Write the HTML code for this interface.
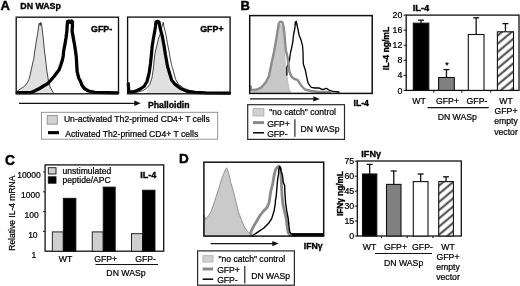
<!DOCTYPE html>
<html><head><meta charset="utf-8"><style>
html,body{margin:0;padding:0;background:#fff;}
body{width:520px;height:286px;overflow:hidden;}
svg{display:block;font-family:"Liberation Sans", sans-serif;-webkit-font-smoothing:antialiased;will-change:transform;}
</style></head><body>
<svg width="520" height="286" viewBox="0 0 520 286">
<rect width="520" height="286" fill="#fff"/>
<defs><pattern id="hatch" patternUnits="userSpaceOnUse" width="6.28" height="6.28" patternTransform="rotate(50)"><rect width="6.28" height="6.28" fill="#fff"/><line x1="1.72" y1="-1" x2="1.72" y2="7.28" stroke="#555" stroke-width="2.2"/></pattern><pattern id="hatch2" patternUnits="userSpaceOnUse" width="6.28" height="6.28" patternTransform="rotate(50)"><rect width="6.28" height="6.28" fill="#fff"/><line x1="3.6" y1="-1" x2="3.6" y2="7.28" stroke="#555" stroke-width="2.2"/></pattern></defs>
<text x="0.6" y="9.6" font-size="13" font-weight="bold" text-anchor="start" fill="#000" stroke="#000" stroke-width="0.45" >A</text>
<text x="20.3" y="8.9" font-size="8.8" font-weight="bold" text-anchor="start" fill="#000" stroke="#000" stroke-width="0.35" >DN WASp</text>
<polygon points="16.5,93.2 18.3,90.1 21.5,88.3 24.8,86 27,83 28.9,79.5 30.2,74.5 31.3,69.7 32.5,64 33.8,58.3 34.6,52 35.8,45 36.8,38 37.6,33.5 38.3,29 39,24 39.6,23 40.2,25.5 40.7,22.4 41.3,23 41.9,27 43,36 43.9,45 44.6,52 45.2,56 46.9,71.3 48.5,81.1 50.1,86.9 51.8,90.1 53.4,92.9" fill="#e0e0e0" stroke="none" stroke-width="0"/>
<polyline points="16.5,93.2 18.3,90.1 21.5,88.3 24.8,86 27,83 28.9,79.5 30.2,74.5 31.3,69.7 32.5,64 33.8,58.3 34.6,52 35.8,45 36.8,38 37.6,33.5 38.3,29 39,24 39.6,23 40.2,25.5 40.7,22.4 41.3,23 41.9,27 43,36 43.9,45 44.6,52 45.2,56 46.9,71.3 48.5,81.1 50.1,86.9 51.8,90.1 53.4,92.9" fill="none" stroke="#1a1a1a" stroke-width="0.8" stroke-linejoin="round" stroke-linecap="round" />
<polyline points="17.2,92.6 31.3,92.6 35,90.8 39.5,88.5 43.5,86 47.7,83.6 51,80 54.2,76.2 57,72.5 59.1,69.7 60.8,65 62.4,59.9 63.2,56 63.7,50.7 64.8,45 66,38 66.9,31 67.2,25 67.6,21.6 69,21 70.3,22.3 71.5,21 72.5,22 72.4,27 72.1,31 73.3,38 74.6,45 75.5,51 76.3,57 76.7,64 77.1,71.3 78.7,77.9 80.4,81.1 82,85.2 84.4,88.5 88.5,91 95,92.3 117.6,92.8" fill="none" stroke="#000" stroke-width="3.3" stroke-linejoin="round" stroke-linecap="round" />
<rect x="16.2" y="17.2" width="102.3" height="76.6" fill="none" stroke="#111" stroke-width="1.35" />
<text x="91" y="31.7" font-size="8.9" font-weight="bold" text-anchor="start" fill="#000" stroke="#000" stroke-width="0.35" >GFP-</text>
<polygon points="146.5,93.2 148,87.5 149.8,84.4 151.9,78.1 153.3,69 154.7,55 156.2,48 157.3,44 158.3,39 161,33.5 162.3,36.2 164.1,46 165.5,55 167.5,66.2 169.6,73.2 171.7,80.2 175.2,84.4 180.8,88.6 182,90 183,93.2" fill="#e0e0e0" stroke="none" stroke-width="0"/>
<polyline points="135,92.8 142.8,90.7 146.3,88.6 149.8,84.4 151.9,78.1 153.3,69 154.7,55 156.2,48 157.3,44 158.3,39 160.4,33.4 162.1,26.4 163.2,22.2 163.9,26.4 166.0,34.8 167.4,43.2 168.8,50.3 170.0,57 171.5,64.8 173.6,71.8 175.7,79.5 178.5,84.4 183.4,87.9 190,90.7 200,92.5 210,93" fill="none" stroke="#1a1a1a" stroke-width="0.8" stroke-linejoin="round" stroke-linecap="round" />
<polyline points="128.3,83.5 128.8,91.9 133,91.9 137,90.4 140.7,88.7 144.2,86.2 147,81.5 149.1,73.2 150.5,63.4 151.3,56 152.2,46 153.5,38 154.6,32 155.5,26.4 156,22 157.6,21.3 159,22 160.2,28.5 162.3,36.2 164.1,46 165.5,55 167.5,66.2 169.6,73.2 171.7,80.2 175.2,84.4 180.8,88.6 186.2,91.1 195,92.3 205.8,92.9 229.5,93.1" fill="none" stroke="#000" stroke-width="3.2" stroke-linejoin="round" stroke-linecap="round" />
<rect x="127.6" y="17.1" width="102.5" height="76.69999999999999" fill="none" stroke="#111" stroke-width="1.35" />
<text x="200.2" y="32.2" font-size="8.9" font-weight="bold" text-anchor="start" fill="#000" stroke="#000" stroke-width="0.35" >GFP+</text>
<line x1="19" y1="103.3" x2="135.3" y2="103.3" stroke="#111" stroke-width="1.2"/>
<polygon points="140.8,103.3 134.3,100.6 134.3,106.0" fill="#111" stroke="none" stroke-width="0"/>
<text x="148" y="108.3" font-size="8.7" font-weight="bold" text-anchor="start" fill="#000" stroke="#000" stroke-width="0.35" >Phalloidin</text>
<rect x="41.5" y="112.3" width="176.2" height="26.89999999999999" fill="#fff" stroke="#8a8a8a" stroke-width="0.9" />
<rect x="47.2" y="115.5" width="10.1" height="8.7" fill="#d2d2d2" stroke="#999" stroke-width="1" />
<text x="63.9" y="122.4" font-size="8.6" text-anchor="start" fill="#000" stroke="#000" stroke-width="0.22" >Un-activated Th2-primed CD4+ T cells</text>
<rect x="48" y="131.1" width="11" height="3.1" fill="#000" stroke="none" stroke-width="0" />
<text x="65.2" y="136.8" font-size="8.6" text-anchor="start" fill="#000" stroke="#000" stroke-width="0.22" >Activated Th2-primed CD4+ T cells</text>
<text x="240.5" y="9.5" font-size="13" font-weight="bold" text-anchor="start" fill="#000" stroke="#000" stroke-width="0.45" >B</text>
<polygon points="252,92.2 257,89.8 261.5,87.6 266,82.3 269,76.3 270.5,68.8 272,61.3 274,52.3 275.3,45 276.7,36.6 278.1,28.2 279.5,24 281,24.5 282,27 282.8,32.2 283.7,45 284.5,52 285.5,67 287,74.5 287.8,82 289.3,89.5 290.8,92.2" fill="#c8c8c8" stroke="#b5b5b5" stroke-width="0.7"/>
<polyline points="286.8,75 286.8,67.5 288,64.5 289.5,60 290.6,52 291.4,49 292.8,42 293.5,35 294.9,28 295.3,22 295.8,24 296.3,21.5 296.8,24 297.7,28 299.1,35 301.2,40.6 302.6,46.2 303,52 303.3,64 305.3,70 306.8,77.6 308.3,83.6 311.3,87.3 315,88 318.8,87.8 322.6,89.6 326.3,88.4 329.3,90.3 333,91.4 339,92" fill="none" stroke="#000" stroke-width="1.3" stroke-linejoin="round" stroke-linecap="round" />
<polyline points="250.6,86.5 251.2,90.3 257,89.5 261.5,87.3 266,82 269,76 270.5,68.5 272,61 274,52 275.3,44.8 276.7,36.4 278.1,28 278.7,24 279.6,22.2 281,21.7 282.4,22.3 283.3,25.5 284.4,33.6 285.1,42 285.8,50.4 287.3,56 288.5,64 289.3,71.5 291.5,76.8 294.5,79 297.5,79.8 299.8,83.5 302,86.5 305,89.5 311,91 318,91.8 330,92.3" fill="none" stroke="#8c8c8c" stroke-width="2.4" stroke-linejoin="round" stroke-linecap="round" />
<rect x="249.7" y="15.6" width="122.5" height="77.80000000000001" fill="none" stroke="#111" stroke-width="1.5" />
<line x1="250" y1="98.9" x2="314.3" y2="98.9" stroke="#111" stroke-width="1.2"/>
<polygon points="319.8,98.9 313.3,96.2 313.3,101.60000000000001" fill="#111" stroke="none" stroke-width="0"/>
<text x="353.5" y="105.9" font-size="8.7" font-weight="bold" text-anchor="start" fill="#000" stroke="#000" stroke-width="0.35" >IL-4</text>
<rect x="247.7" y="104.7" width="96.80000000000001" height="34.7" fill="#fff" stroke="#2a2a2a" stroke-width="1.2" />
<rect x="253" y="108.6" width="10.9" height="7.4" fill="#d0d0d0" stroke="#aaa" stroke-width="0.8" />
<text x="269.2" y="115.1" font-size="8.6" text-anchor="start" fill="#000" stroke="#000" stroke-width="0.22" >"no catch" control</text>
<line x1="253" y1="122.6" x2="264" y2="122.6" stroke="#8a8a8a" stroke-width="3"/>
<text x="267.2" y="126.8" font-size="8.6" text-anchor="start" fill="#000" stroke="#000" stroke-width="0.22" >GFP+</text>
<line x1="253" y1="132.8" x2="264" y2="132.8" stroke="#000" stroke-width="1.5"/>
<text x="267.2" y="137.1" font-size="8.6" text-anchor="start" fill="#000" stroke="#000" stroke-width="0.22" >GFP-</text>
<line x1="294.9" y1="119.2" x2="294.9" y2="136.7" stroke="#111" stroke-width="1.1"/>
<text x="300.6" y="131.8" font-size="8.6" text-anchor="start" fill="#000" stroke="#000" stroke-width="0.22" >DN WASp</text>
<text x="412.7" y="10.8" font-size="9.3" font-weight="bold" text-anchor="start" fill="#000" stroke="#000" stroke-width="0.35" >IL-4</text>
<rect x="406.2" y="15.1" width="112.80000000000001" height="75.30000000000001" fill="none" stroke="#111" stroke-width="1.3" />
<line x1="403.59999999999997" y1="90.4" x2="406.2" y2="90.4" stroke="#111" stroke-width="1"/>
<text x="402.4" y="93.5" font-size="8.8" text-anchor="end" fill="#000" stroke="#000" stroke-width="0.22" >0</text>
<line x1="403.59999999999997" y1="75.34" x2="406.2" y2="75.34" stroke="#111" stroke-width="1"/>
<text x="402.4" y="78.44" font-size="8.8" text-anchor="end" fill="#000" stroke="#000" stroke-width="0.22" >4</text>
<line x1="403.59999999999997" y1="60.28" x2="406.2" y2="60.28" stroke="#111" stroke-width="1"/>
<text x="402.4" y="63.38" font-size="8.8" text-anchor="end" fill="#000" stroke="#000" stroke-width="0.22" >8</text>
<line x1="403.59999999999997" y1="45.220000000000006" x2="406.2" y2="45.220000000000006" stroke="#111" stroke-width="1"/>
<text x="402.4" y="48.32000000000001" font-size="8.8" text-anchor="end" fill="#000" stroke="#000" stroke-width="0.22" >12</text>
<line x1="403.59999999999997" y1="30.160000000000004" x2="406.2" y2="30.160000000000004" stroke="#111" stroke-width="1"/>
<text x="402.4" y="33.260000000000005" font-size="8.8" text-anchor="end" fill="#000" stroke="#000" stroke-width="0.22" >16</text>
<line x1="403.59999999999997" y1="15.100000000000009" x2="406.2" y2="15.100000000000009" stroke="#111" stroke-width="1"/>
<text x="402.4" y="18.20000000000001" font-size="8.8" text-anchor="end" fill="#000" stroke="#000" stroke-width="0.22" >20</text>
<line x1="433.8" y1="90.4" x2="433.8" y2="92.60000000000001" stroke="#111" stroke-width="1"/>
<line x1="461.8" y1="90.4" x2="461.8" y2="92.60000000000001" stroke="#111" stroke-width="1"/>
<line x1="490.7" y1="90.4" x2="490.7" y2="92.60000000000001" stroke="#111" stroke-width="1"/>
<text transform="translate(389,48.5) rotate(-90)" font-size="8.6" font-weight="bold" text-anchor="middle" fill="#000" stroke="#000" stroke-width="0.35" >IL-4 ng/mL</text>
<line x1="421.05" y1="20.2" x2="421.05" y2="23.2" stroke="#111" stroke-width="1.3"/>
<line x1="418.05" y1="20.2" x2="424.05" y2="20.2" stroke="#111" stroke-width="1.3"/>
<rect x="413.3" y="23.2" width="15.5" height="67.2" fill="#000" stroke="#111" stroke-width="1.1" />
<line x1="446.45000000000005" y1="69.6" x2="446.45000000000005" y2="77.5" stroke="#111" stroke-width="1.3"/>
<line x1="443.45000000000005" y1="69.6" x2="449.45000000000005" y2="69.6" stroke="#111" stroke-width="1.3"/>
<rect x="438.6" y="77.5" width="15.699999999999989" height="12.900000000000006" fill="#808080" stroke="#111" stroke-width="1.1" />
<line x1="476.15" y1="17.8" x2="476.15" y2="34.5" stroke="#111" stroke-width="1.3"/>
<line x1="473.15" y1="17.8" x2="479.15" y2="17.8" stroke="#111" stroke-width="1.3"/>
<rect x="468.3" y="34.5" width="15.699999999999989" height="55.900000000000006" fill="#fff" stroke="#111" stroke-width="1.1" />
<line x1="505.45" y1="23.6" x2="505.45" y2="31.8" stroke="#111" stroke-width="1.3"/>
<line x1="502.45" y1="23.6" x2="508.45" y2="23.6" stroke="#111" stroke-width="1.3"/>
<rect x="497.4" y="31.8" width="16.100000000000023" height="58.60000000000001" fill="url(#hatch)" stroke="#111" stroke-width="1.1" />
<text x="447.1" y="67.6" font-size="9" text-anchor="middle" fill="#000" stroke="#000" stroke-width="0.22" >*</text>
<text x="419" y="104.3" font-size="8.7" text-anchor="middle" fill="#000" stroke="#000" stroke-width="0.22" >WT</text>
<text x="447.5" y="104.3" font-size="8.7" text-anchor="middle" fill="#000" stroke="#000" stroke-width="0.22" >GFP+</text>
<text x="477" y="104.3" font-size="8.7" text-anchor="middle" fill="#000" stroke="#000" stroke-width="0.22" >GFP-</text>
<text x="506" y="104.3" font-size="8.7" text-anchor="middle" fill="#000" stroke="#000" stroke-width="0.22" >WT</text>
<text x="506" y="113.6" font-size="8.7" text-anchor="middle" fill="#000" stroke="#000" stroke-width="0.22" >GFP+</text>
<text x="506" y="124.4" font-size="8.7" text-anchor="middle" fill="#000" stroke="#000" stroke-width="0.22" >empty</text>
<text x="506" y="134.7" font-size="8.7" text-anchor="middle" fill="#000" stroke="#000" stroke-width="0.22" >vector</text>
<line x1="427.5" y1="107.6" x2="488.8" y2="107.6" stroke="#111" stroke-width="1.3"/>
<text x="457.3" y="120" font-size="8.7" text-anchor="middle" fill="#000" stroke="#000" stroke-width="0.22" >DN WASp</text>
<text x="4.9" y="165.3" font-size="13.8" font-weight="bold" text-anchor="start" fill="#000" stroke="#000" stroke-width="0.45" >C</text>
<rect x="45.1" y="164.9" width="118.6" height="86.29999999999998" fill="none" stroke="#111" stroke-width="1.3" />
<line x1="43" y1="172.0" x2="45.1" y2="172.0" stroke="#111" stroke-width="0.9"/>
<line x1="43" y1="191.79999999999998" x2="45.1" y2="191.79999999999998" stroke="#111" stroke-width="0.9"/>
<line x1="43" y1="211.6" x2="45.1" y2="211.6" stroke="#111" stroke-width="0.9"/>
<line x1="43" y1="231.39999999999998" x2="45.1" y2="231.39999999999998" stroke="#111" stroke-width="0.9"/>
<text x="40.8" y="178.15" font-size="8.5" text-anchor="end" fill="#000" stroke="#000" stroke-width="0.22" >10000</text>
<text x="39.9" y="197.95000000000002" font-size="8.5" text-anchor="end" fill="#000" stroke="#000" stroke-width="0.22" >1000</text>
<text x="38.8" y="217.85000000000002" font-size="8.5" text-anchor="end" fill="#000" stroke="#000" stroke-width="0.22" >100</text>
<text x="37.6" y="237.95000000000002" font-size="8.5" text-anchor="end" fill="#000" stroke="#000" stroke-width="0.22" >10</text>
<text x="36.3" y="257.75" font-size="8.5" text-anchor="end" fill="#000" stroke="#000" stroke-width="0.22" >1</text>
<text transform="translate(15.3,213.2) rotate(-90)" font-size="8.5" text-anchor="middle" fill="#000" stroke="#000" stroke-width="0.22" >Relative IL-4 mRNA</text>
<rect x="52.3" y="231.9" width="11.0" height="19.299999999999983" fill="#cfcfcf" stroke="#111" stroke-width="0.9" />
<rect x="63.3" y="198.3" width="12.600000000000009" height="52.89999999999998" fill="#000" stroke="#111" stroke-width="0.9" />
<rect x="92.2" y="231.9" width="11.0" height="19.299999999999983" fill="#cfcfcf" stroke="#111" stroke-width="0.9" />
<rect x="103.2" y="187.1" width="12.0" height="64.1" fill="#000" stroke="#111" stroke-width="0.9" />
<rect x="131.5" y="233.7" width="11.099999999999994" height="17.5" fill="#cfcfcf" stroke="#111" stroke-width="0.9" />
<rect x="142.6" y="190.2" width="12.400000000000006" height="61.0" fill="#000" stroke="#111" stroke-width="0.9" />
<rect x="48.3" y="167.7" width="7.7" height="6.3" fill="#d0d0d0" stroke="#111" stroke-width="0.9" />
<text x="62.5" y="173.6" font-size="8.6" text-anchor="start" fill="#000" stroke="#000" stroke-width="0.22" >unstimulated</text>
<rect x="48.3" y="176.8" width="7.7" height="6.4" fill="#000" stroke="#111" stroke-width="0.9" />
<text x="62.5" y="183.2" font-size="8.6" text-anchor="start" fill="#000" stroke="#000" stroke-width="0.22" >peptide/APC</text>
<text x="140.2" y="178.2" font-size="9" font-weight="bold" text-anchor="start" fill="#000" stroke="#000" stroke-width="0.35" >IL-4</text>
<text x="65.5" y="262.3" font-size="8.7" text-anchor="middle" fill="#000" stroke="#000" stroke-width="0.22" >WT</text>
<text x="105.6" y="262.3" font-size="8.7" text-anchor="middle" fill="#000" stroke="#000" stroke-width="0.22" >GFP+</text>
<text x="145.6" y="262.3" font-size="8.7" text-anchor="middle" fill="#000" stroke="#000" stroke-width="0.22" >GFP-</text>
<line x1="95.5" y1="264.5" x2="158" y2="264.5" stroke="#111" stroke-width="1.2"/>
<text x="126" y="275.9" font-size="8.7" text-anchor="middle" fill="#000" stroke="#000" stroke-width="0.22" >DN WASp</text>
<text x="179" y="163" font-size="13.5" font-weight="bold" text-anchor="start" fill="#000" stroke="#000" stroke-width="0.45" >D</text>
<polygon points="204.3,236 204.1,215.4 205.9,219.4 208.6,215.4 211.2,211.5 213.8,203.6 216.4,195.8 219,187.9 221.7,178.7 224.3,172.2 225.8,169 226.6,167.8 227.4,169.5 228.7,173.5 230.8,182.7 233.5,191.8 236.1,202.3 238.7,212.8 241.3,219.4 243.9,225.9 246.6,230.6 250.5,233.8 253.5,236" fill="#cacaca" stroke="#8a8a8a" stroke-width="0.9"/>
<rect x="291.5" y="233.2" width="32.2" height="3.2" fill="#000" stroke="none" stroke-width="0" />
<polyline points="250.5,235.5 251.3,231.2 253.6,226.4 256.8,221 260,215.4 263.1,211.5 267,207.6 269,203 269.6,199.2 270.6,192.2 272.7,183.8 274.1,175.4 275.5,169.8 277,167.5 279,166.3 280.4,168.4 281,175 281.5,185 282,195 282.7,202.9 284.3,210.7 286.2,218.6 287.1,226.4 288.2,232.7 289.8,235.1" fill="none" stroke="#8a8a8a" stroke-width="2.8" stroke-linejoin="round" stroke-linecap="round" />
<polyline points="252.1,236 254.4,234.3 259.2,231.2 263.9,228 268.6,223.3 271.7,218.6 274.1,210.7 275.2,204.4 275.5,200 276.2,196.4 276.9,188 277.6,179.6 278.6,174 278.7,169.8 279.7,166.3 280.5,168 281.1,171.2 282.5,175.4 283.2,182.4 284.6,185.2 284.9,192.2 285.6,202.9 286.7,210.7 288.2,218.6 289,226.4 289.8,232.2 291.5,234 323.5,234.3" fill="none" stroke="#000" stroke-width="1.4" stroke-linejoin="round" stroke-linecap="round" />
<rect x="203.9" y="162.2" width="119.79999999999998" height="73.9" fill="none" stroke="#111" stroke-width="1.5" />
<line x1="210.7" y1="243.6" x2="273.3" y2="243.6" stroke="#111" stroke-width="1.2"/>
<polygon points="278.8,243.6 272.3,240.9 272.3,246.29999999999998" fill="#111" stroke="none" stroke-width="0"/>
<text x="303.8" y="249" font-size="8.7" font-weight="bold" text-anchor="start" fill="#000" stroke="#000" stroke-width="0.35" >IFNγ</text>
<rect x="197.6" y="250.9" width="96.79999999999998" height="34.29999999999998" fill="#fff" stroke="#2a2a2a" stroke-width="1.2" />
<rect x="202.9" y="255.7" width="10.1" height="6.3" fill="#d0d0d0" stroke="#aaa" stroke-width="0.8" />
<text x="218.4" y="261.8" font-size="8.6" text-anchor="start" fill="#000" stroke="#000" stroke-width="0.22" >"no catch" control</text>
<line x1="202.6" y1="269" x2="213.2" y2="269" stroke="#8a8a8a" stroke-width="3"/>
<text x="217.2" y="273.1" font-size="8.6" text-anchor="start" fill="#000" stroke="#000" stroke-width="0.22" >GFP+</text>
<line x1="202.6" y1="279.2" x2="213.2" y2="279.2" stroke="#000" stroke-width="1.5"/>
<text x="217.2" y="283.2" font-size="8.6" text-anchor="start" fill="#000" stroke="#000" stroke-width="0.22" >GFP-</text>
<line x1="244.8" y1="266" x2="244.8" y2="283.4" stroke="#111" stroke-width="1.1"/>
<text x="251.2" y="278.6" font-size="8.6" text-anchor="start" fill="#000" stroke="#000" stroke-width="0.22" >DN WASp</text>
<text x="361.3" y="157" font-size="9.2" font-weight="bold" text-anchor="start" fill="#000" stroke="#000" stroke-width="0.35" textLength="19.8" lengthAdjust="spacingAndGlyphs">IFNγ</text>
<rect x="357.3" y="161" width="104.0" height="75" fill="none" stroke="#111" stroke-width="1.3" />
<line x1="354.7" y1="236.0" x2="357.3" y2="236.0" stroke="#111" stroke-width="1"/>
<text x="354.2" y="239.1" font-size="8.8" text-anchor="end" fill="#000" stroke="#000" stroke-width="0.22" >0</text>
<line x1="354.7" y1="221.04" x2="357.3" y2="221.04" stroke="#111" stroke-width="1"/>
<text x="354.2" y="224.14" font-size="8.8" text-anchor="end" fill="#000" stroke="#000" stroke-width="0.22" >15</text>
<line x1="354.7" y1="206.07999999999998" x2="357.3" y2="206.07999999999998" stroke="#111" stroke-width="1"/>
<text x="354.2" y="209.17999999999998" font-size="8.8" text-anchor="end" fill="#000" stroke="#000" stroke-width="0.22" >30</text>
<line x1="354.7" y1="191.12" x2="357.3" y2="191.12" stroke="#111" stroke-width="1"/>
<text x="354.2" y="194.22" font-size="8.8" text-anchor="end" fill="#000" stroke="#000" stroke-width="0.22" >45</text>
<line x1="354.7" y1="176.16" x2="357.3" y2="176.16" stroke="#111" stroke-width="1"/>
<text x="354.2" y="179.26" font-size="8.8" text-anchor="end" fill="#000" stroke="#000" stroke-width="0.22" >60</text>
<line x1="354.7" y1="161.2" x2="357.3" y2="161.2" stroke="#111" stroke-width="1"/>
<text x="354.2" y="164.29999999999998" font-size="8.8" text-anchor="end" fill="#000" stroke="#000" stroke-width="0.22" >75</text>
<line x1="381.5" y1="236" x2="381.5" y2="238.2" stroke="#111" stroke-width="1"/>
<line x1="407.2" y1="236" x2="407.2" y2="238.2" stroke="#111" stroke-width="1"/>
<line x1="433" y1="236" x2="433" y2="238.2" stroke="#111" stroke-width="1"/>
<text transform="translate(343.4,193.6) rotate(-90)" font-size="8.6" font-weight="bold" text-anchor="middle" fill="#000" stroke="#000" stroke-width="0.35" textLength="45" lengthAdjust="spacingAndGlyphs">IFNγ ng/mL</text>
<line x1="369.65" y1="164.4" x2="369.65" y2="174" stroke="#111" stroke-width="1.3"/>
<line x1="366.65" y1="164.4" x2="372.65" y2="164.4" stroke="#111" stroke-width="1.3"/>
<rect x="362.5" y="174" width="14.300000000000011" height="62" fill="#000" stroke="#111" stroke-width="1.1" />
<line x1="393.75" y1="171" x2="393.75" y2="184.4" stroke="#111" stroke-width="1.3"/>
<line x1="390.75" y1="171" x2="396.75" y2="171" stroke="#111" stroke-width="1.3"/>
<rect x="386.5" y="184.4" width="14.5" height="51.599999999999994" fill="#808080" stroke="#111" stroke-width="1.1" />
<line x1="420.65" y1="174" x2="420.65" y2="181.6" stroke="#111" stroke-width="1.3"/>
<line x1="417.65" y1="174" x2="423.65" y2="174" stroke="#111" stroke-width="1.3"/>
<rect x="413.3" y="181.6" width="14.699999999999989" height="54.400000000000006" fill="#fff" stroke="#111" stroke-width="1.1" />
<line x1="446.04999999999995" y1="176.8" x2="446.04999999999995" y2="181.6" stroke="#111" stroke-width="1.3"/>
<line x1="443.04999999999995" y1="176.8" x2="449.04999999999995" y2="176.8" stroke="#111" stroke-width="1.3"/>
<rect x="438.7" y="181.6" width="14.699999999999989" height="54.400000000000006" fill="url(#hatch2)" stroke="#111" stroke-width="1.1" />
<text x="369.6" y="249.5" font-size="8.7" text-anchor="middle" fill="#000" stroke="#000" stroke-width="0.22" >WT</text>
<text x="395.5" y="249.5" font-size="8.7" text-anchor="middle" fill="#000" stroke="#000" stroke-width="0.22" >GFP+</text>
<text x="422.5" y="249.5" font-size="8.7" text-anchor="middle" fill="#000" stroke="#000" stroke-width="0.22" >GFP-</text>
<text x="448" y="249.5" font-size="8.7" text-anchor="middle" fill="#000" stroke="#000" stroke-width="0.22" >WT</text>
<text x="448" y="259.7" font-size="8.7" text-anchor="middle" fill="#000" stroke="#000" stroke-width="0.22" >GFP+</text>
<text x="448" y="269.8" font-size="8.7" text-anchor="middle" fill="#000" stroke="#000" stroke-width="0.22" >empty</text>
<text x="448" y="280" font-size="8.7" text-anchor="middle" fill="#000" stroke="#000" stroke-width="0.22" >vector</text>
<line x1="375" y1="253.5" x2="432" y2="253.5" stroke="#111" stroke-width="1.2"/>
<text x="403.6" y="265.6" font-size="8.7" text-anchor="middle" fill="#000" stroke="#000" stroke-width="0.22" >DN WASp</text>
</svg>
</body></html>
